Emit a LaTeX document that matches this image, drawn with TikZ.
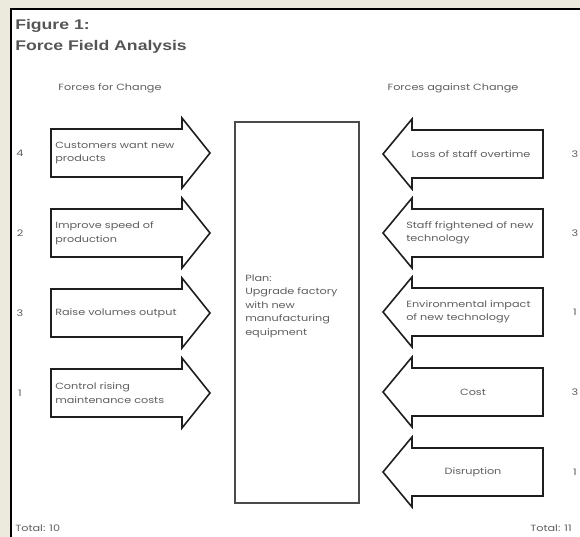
\documentclass[tikz,border=0pt]{standalone}
\usepackage{fontspec}
\setmainfont{Liberation Sans}
\newfontfamily\geofont{Poppins}
\definecolor{paper}{RGB}{236,233,221}
\definecolor{ink}{RGB}{95,95,95}
\definecolor{titleink}{RGB}{85,85,85}
\definecolor{edge}{RGB}{30,30,30}
\begin{document}
\begin{tikzpicture}[x=1pt,y=-1pt,
  txt/.style={font=\geofont\fontsize{9}{13.5}\selectfont, text=ink, inner sep=0pt, xscale=1.25, align=left},
  ttl/.style={font=\bfseries\fontsize{14}{14}\selectfont, text=titleink, inner sep=0pt, xscale=1.26, anchor=base west},
  arrowline/.style={draw=edge, line width=1.6pt, fill=white, line join=miter},
  pics/forarrow/.style={code={
    \draw[arrowline] (0,-24) -- (131,-24) -- (131,-35) -- (159,0) -- (131,35) -- (131,24) -- (0,24) -- cycle;}},
  pics/againstarrow/.style={code={
    \draw[arrowline] (0,-24) -- (-131,-24) -- (-131,-35) -- (-160,0) -- (-131,35) -- (-131,24) -- (0,24) -- cycle;}}
]
\useasboundingbox (0,0) rectangle (580,537);
% page and framed panel
\fill[paper] (0,0) rectangle (580,537);
\draw[line width=2.5pt, fill=white] (11,9) rectangle (620,580);

% title
\node[ttl] (fig) at (15,30) {Figure 1:};
\node[ttl] (ffa) at (15,51) {Force Field Analysis};

% column headings
\node[txt] (hfor) at (110,88) {Forces for Change};
\node[txt] (hagainst) at (453,88) {Forces against Change};

% central plan box
\draw[draw=edge!80, line width=1.8pt] (235,122) rectangle (359,503);
\node[txt, anchor=west] (plan) at (245,306) {Plan:\\Upgrade factory\\with new\\manufacturing\\equipment};

% forces for change
\pic (f1) at (51,153) {forarrow};
\pic (f2) at (51,233) {forarrow};
\pic (f3) at (51,313) {forarrow};
\pic (f4) at (51,393) {forarrow};
\node[txt, anchor=west] (tf1) at (55,153) {Customers want new\\products};
\node[txt, anchor=west] (tf2) at (55,233) {Improve speed of\\production};
\node[txt, anchor=west] (tf3) at (55,313) {Raise volumes output};
\node[txt, anchor=west] (tf4) at (55,393) {Control rising\\maintenance costs};
\node[txt] (sf1) at (20,153) {4};
\node[txt] (sf2) at (20,233) {2};
\node[txt] (sf3) at (20,313) {3};
\node[txt] (sf4) at (20,393) {1};

% forces against change
\pic (a1) at (543,154) {againstarrow};
\pic (a2) at (543,233) {againstarrow};
\pic (a3) at (543,312) {againstarrow};
\pic (a4) at (543,392) {againstarrow};
\pic (a5) at (543,472) {againstarrow};
\node[txt] (ta1) at (471,154) {Loss of staff overtime};
\node[txt, anchor=west] (ta2) at (406,233) {Staff frightened of new\\technology};
\node[txt, anchor=west] (ta3) at (406,312) {Environmental impact\\of new technology};
\node[txt] (ta4) at (473,392) {Cost};
\node[txt] (ta5) at (473,472) {Disruption};
\node[txt] (sa1) at (575,154) {3};
\node[txt] (sa2) at (575,233) {3};
\node[txt] (sa3) at (575,312) {1};
\node[txt] (sa4) at (575,392) {3};
\node[txt] (sa5) at (575,472) {1};

% totals
\node[txt, anchor=west] (totfor) at (15,528) {Total: 10};
\node[txt, anchor=west] (totagainst) at (530,528) {Total: 11};
\end{tikzpicture}
\end{document}
